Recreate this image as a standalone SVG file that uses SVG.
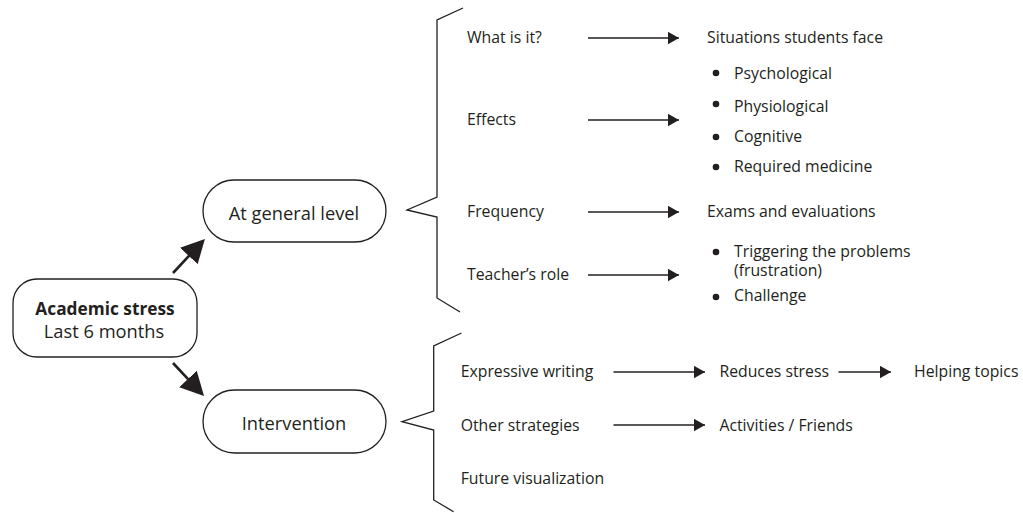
<svg xmlns="http://www.w3.org/2000/svg" width="1023" height="513" viewBox="0 0 1023 513">
<defs>
<style>
text{font-family:"Open Sans","Noto Sans","Liberation Sans",sans-serif;font-size:15.8px;fill:#231f20}
.nt{font-size:18.3px}
.bold{font-weight:bold;font-size:17.3px}
.node{fill:#fff;stroke:#231f20;stroke-width:1.3}
.br{fill:none;stroke:#231f20;stroke-width:1.3}
.sa{stroke:#231f20;stroke-width:1.4;fill:none}
.ba{stroke:#231f20;stroke-width:2.6;fill:none}
.dot{fill:#231f20}
</style>
<marker id="sm" markerUnits="userSpaceOnUse" markerWidth="12" markerHeight="13" refX="11.5" refY="6.5" orient="auto"><path d="M0,0 L11.5,6.5 L0,13 z" fill="#231f20"/></marker>
<marker id="bg" markerUnits="userSpaceOnUse" markerWidth="24" markerHeight="25" refX="0.5" refY="12" orient="auto"><path d="M0,0 L23.5,12 L0,24 z" fill="#231f20"/></marker>
</defs>
<rect width="1023" height="513" fill="#fff"/>
<g id="connectors">
<line class="ba" x1="173" y1="273" x2="189.2" y2="255.7" marker-end="url(#bg)"/>
<line class="ba" x1="173" y1="363" x2="188.3" y2="379.3" marker-end="url(#bg)"/>
<path class="br" d="M463,8 L437,20 L437,197 L407,210 L437,217 L437,298 L460,312"/>
<path class="br" d="M461.5,333 L433.7,346 L433.7,411 L402,421.7 L433.7,430 L433.7,500 L453.6,511.7"/>
<line class="sa" x1="588" y1="38" x2="679" y2="38" marker-end="url(#sm)"/>
<line class="sa" x1="588" y1="120" x2="679" y2="120" marker-end="url(#sm)"/>
<line class="sa" x1="588" y1="212" x2="679" y2="212" marker-end="url(#sm)"/>
<line class="sa" x1="588" y1="275" x2="679" y2="275" marker-end="url(#sm)"/>
<line class="sa" x1="613.5" y1="372" x2="705" y2="372" marker-end="url(#sm)"/>
<line class="sa" x1="838.5" y1="372" x2="891" y2="372" marker-end="url(#sm)"/>
<line class="sa" x1="613.5" y1="425" x2="705" y2="425" marker-end="url(#sm)"/>
</g>
<g id="academic-stress">
<rect class="node" x="13" y="279" width="184" height="78" rx="24"/>
<text class="bold" x="105" y="314.5" text-anchor="middle">Academic stress</text>
<text class="nt" x="104" y="337.5" text-anchor="middle">Last 6 months</text>
</g>
<g id="general-level">
<rect class="node" x="203" y="180" width="183" height="62" rx="31"/>
<text class="nt" x="294" y="220" text-anchor="middle">At general level</text>
</g>
<g id="intervention">
<rect class="node" x="203" y="390" width="183" height="63" rx="31.5"/>
<text class="nt" x="294" y="430" text-anchor="middle">Intervention</text>
</g>
<g id="what-is-it"><text x="467" y="43">What is it?</text></g>
<g id="effects"><text x="467" y="125">Effects</text></g>
<g id="frequency"><text x="467" y="217">Frequency</text></g>
<g id="teachers-role"><text x="467" y="280">Teacher’s role</text></g>
<g id="situations"><text x="707" y="43">Situations students face</text></g>
<g id="effects-list">
<circle class="dot" cx="716" cy="73" r="3.3"/><text x="734" y="79">Psychological</text>
<circle class="dot" cx="716" cy="104" r="3.3"/><text x="734" y="112">Physiological</text>
<circle class="dot" cx="716" cy="137" r="3.3"/><text x="734" y="142">Cognitive</text>
<circle class="dot" cx="716" cy="167" r="3.3"/><text x="734" y="172">Required medicine</text>
</g>
<g id="exams"><text x="707" y="217">Exams and evaluations</text></g>
<g id="teacher-list">
<circle class="dot" cx="716" cy="252" r="3.3"/><text x="734" y="256.5">Triggering the problems<tspan x="734" y="275.5">(frustration)</tspan></text>
<circle class="dot" cx="716" cy="297" r="3.3"/><text x="734" y="301">Challenge</text>
</g>
<g id="expressive-writing"><text x="460.7" y="377">Expressive writing</text></g>
<g id="reduces-stress"><text x="719.4" y="377">Reduces stress</text></g>
<g id="helping-topics"><text x="914" y="377">Helping topics</text></g>
<g id="other-strategies"><text x="460.7" y="431">Other strategies</text></g>
<g id="activities-friends"><text x="719.4" y="431">Activities / Friends</text></g>
<g id="future-visualization"><text x="460.7" y="484">Future visualization</text></g>
</svg>
